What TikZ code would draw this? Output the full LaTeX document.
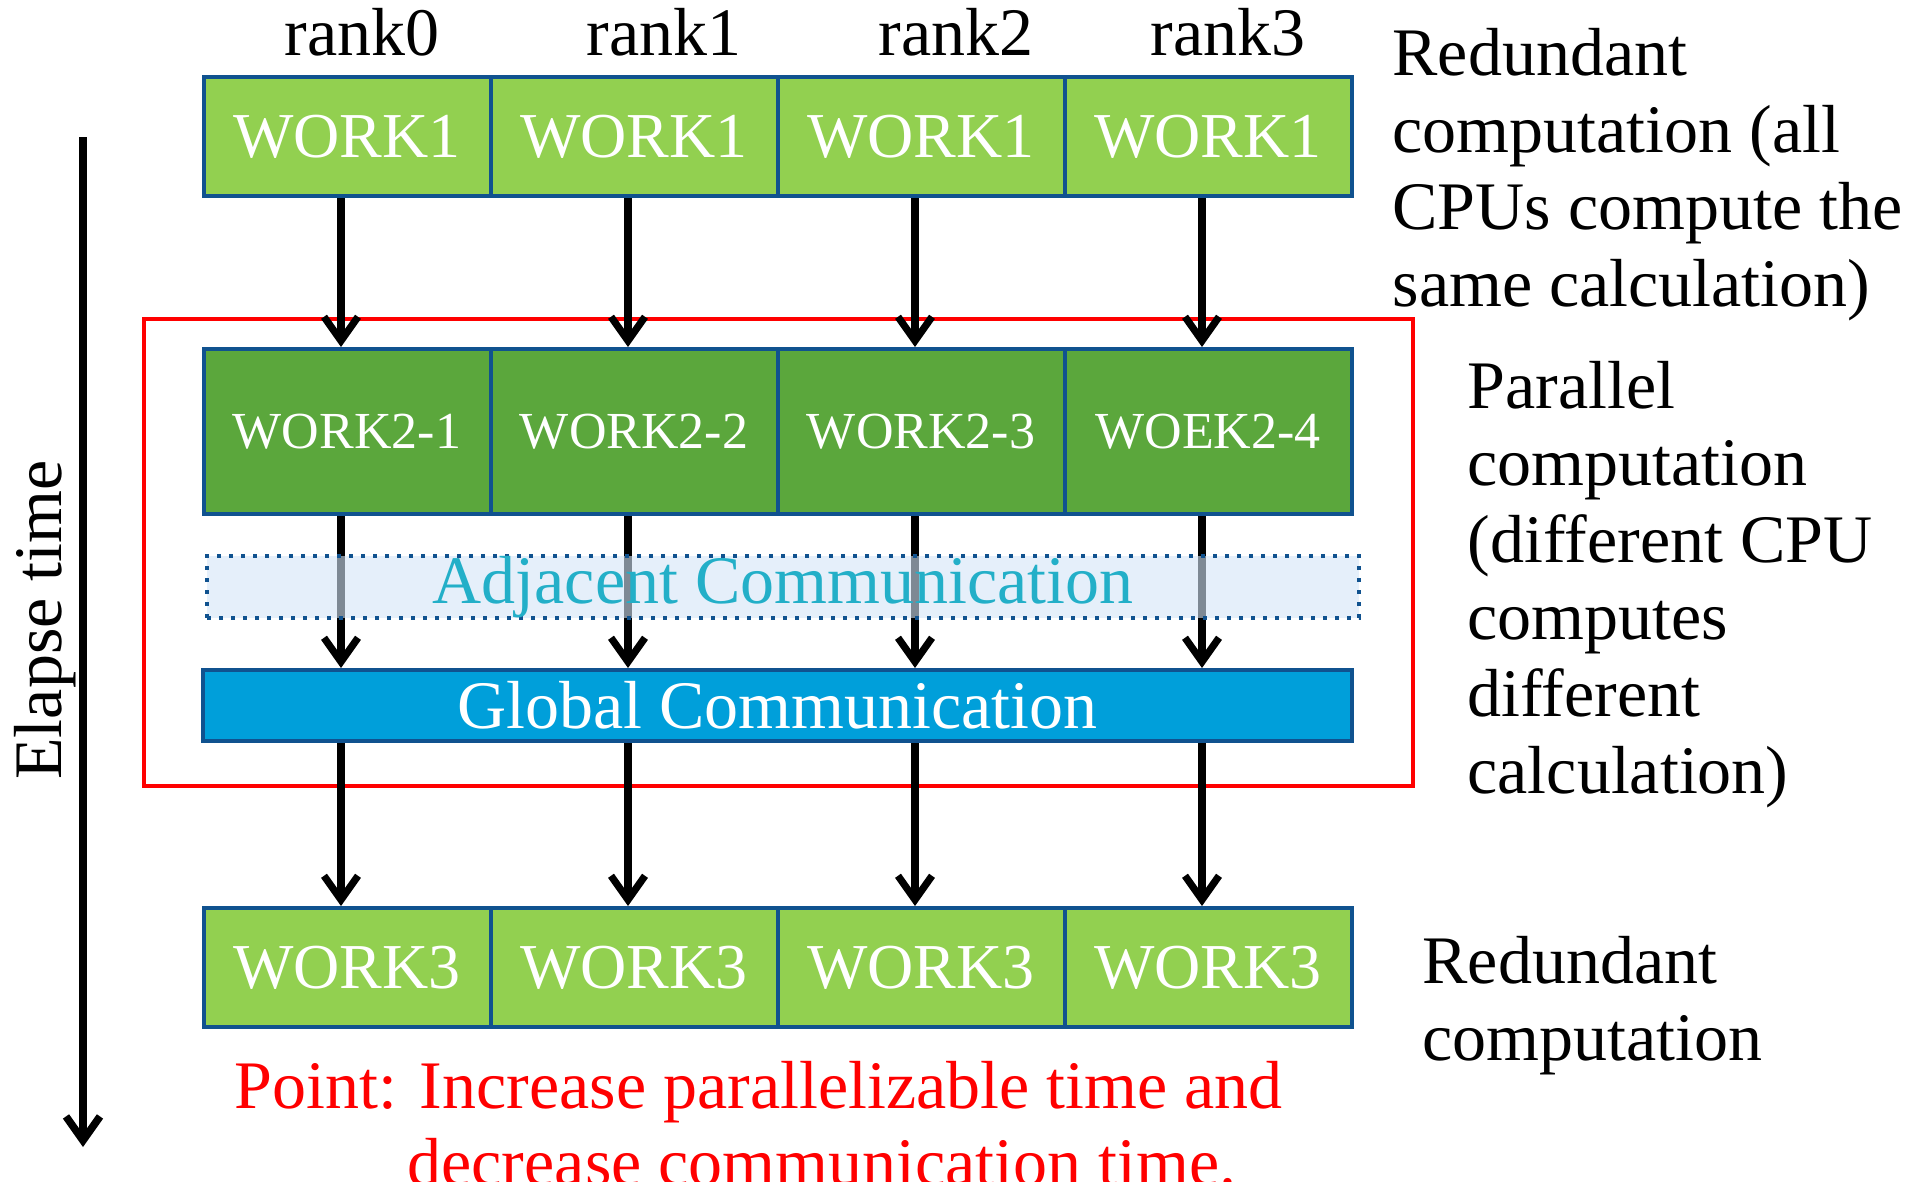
\documentclass[tikz,border=0pt]{standalone}
\usepackage{fontspec}
\setmainfont{Liberation Serif}
\usetikzlibrary{arrows.meta,positioning}

\definecolor{lightwork}{HTML}{92D050}
\definecolor{darkwork}{HTML}{5BA73C}
\definecolor{boxline}{HTML}{10528F}
\definecolor{globalblue}{HTML}{009FDA}
\definecolor{adjfill}{HTML}{D3E5F7}
\definecolor{adjtext}{HTML}{23AFC8}

\begin{document}
\begin{tikzpicture}[->,>={Straight Barb[length=6pt,width=8.5pt]},line width=1.8pt,x=0.25pt,y=-0.25pt]
\tikzstyle{work}=[shape=rectangle,draw=boxline,line width=1pt,fill=lightwork,text=white,minimum width=71.75pt,minimum height=29.75pt,inner sep=0pt,font=\fontsize{16}{19}\selectfont]
\tikzstyle{partwork}=[work,fill=darkwork,minimum height=41.25pt,font=\fontsize{13}{15}\selectfont]
\tikzstyle{label}=[inner sep=0pt,font=\fontsize{17}{19.25}\selectfont]

\useasboundingbox (0,0) rectangle (1907,1181);

% parallel region
\draw[-,red,line width=1.1pt] (144,319) rectangle (1413,786);

% ranks
\node[label,anchor=base] (R0) at (362,55) {rank0};
\node[label,anchor=base] (R1) at (664,55) {rank1};
\node[label,anchor=base] (R2) at (956,55) {rank2};
\node[label,anchor=base] (R3) at (1228,55) {rank3};

% redundant work before
\node[work]		(A1) at (347,136.5)            {WORK1};
\node[work]		(A2) [right of=A1, node distance=71.75pt] {WORK1};
\node[work]		(A3) [right of=A2, node distance=71.75pt] {WORK1};
\node[work]		(A4) [right of=A3, node distance=71.75pt] {WORK1};

% parallel work
\node[partwork]	(B1) [below of=A1, node distance=73.75pt] {WORK2-1};
\node[partwork]	(B2) [right of=B1, node distance=71.75pt] {WORK2-2};
\node[partwork]	(B3) [right of=B2, node distance=71.75pt] {WORK2-3};
\node[partwork]	(B4) [right of=B3, node distance=71.75pt] {WOEK2-4};

\node[work,fill=globalblue,minimum width=287.25pt,minimum height=17.75pt,font=\fontsize{17}{19}\selectfont] (G) at (777.5,705.5) {Global Communication};

% redundant work after
\node[work]		(C1) [below of=A1, node distance=207.75pt] {WORK3};
\node[work]		(C2) [right of=C1, node distance=71.75pt] {WORK3};
\node[work]		(C3) [right of=C2, node distance=71.75pt] {WORK3};
\node[work]		(C4) [right of=C3, node distance=71.75pt] {WORK3};

\foreach \i in {1,...,4}{
  \draw ([xshift=-1.5pt]A\i.south) -- ([xshift=-1.5pt]B\i.north);
  \draw ([xshift=-1.5pt]B\i.south) -- ([xshift=-1.5pt]G.north -| B\i);
  \draw ([xshift=-1.5pt]G.south -| C\i) -- ([xshift=-1.5pt]C\i.north);
}

\node[draw=boxline,dotted,line width=1pt,fill=adjfill,fill opacity=0.6,text opacity=1,text=adjtext,minimum width=288pt,minimum height=15.5pt,inner sep=0pt,font=\fontsize{17}{19}\selectfont] (ADJ) at (783,587) {Adjacent Communication};

% time axis
\coordinate (T0) at (83,137);
\coordinate (T1) at (83,1147);
\draw[line width=1.9pt] (T0) -- (T1);
\node[label,rotate=90] (ET) at (45,620) {Elapse time};

% notes
\node[label,anchor=north west,align=left] (N1) at (1389,25) {Redundant\\computation (all\\CPUs compute the\\same calculation)};
\node[label,anchor=north west,align=left] (N2) at (1464,358) {Parallel\\computation\\(different CPU\\computes\\different\\calculation)};
\node[label,anchor=north west,align=left] (N3) at (1419,933) {Redundant\\computation};
\node[label,anchor=north west,align=left,text=red] (PT) at (231,1058) {Point: Increase parallelizable time and\\\hspace*{43.25pt}decrease communication time.};
\end{tikzpicture}
\end{document}
